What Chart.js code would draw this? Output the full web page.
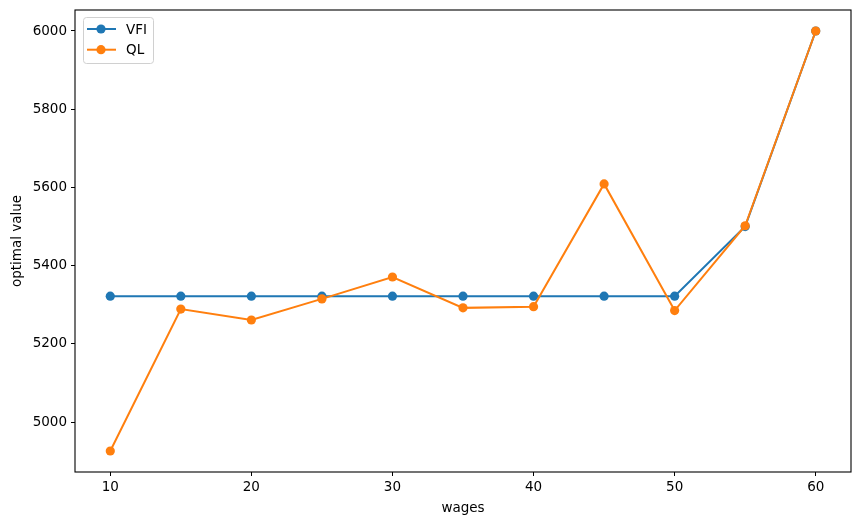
<!DOCTYPE html>
<html>
<head>
<meta charset="utf-8">
<script src="https://cdn.jsdelivr.net/npm/chart.js@4"></script>
<style>
  body { margin: 0; background: #fff; }
  #wrap { width: 859px; height: 525px; }
</style>
</head>
<body>
<div id="wrap"><canvas id="chartValores" width="859" height="525"></canvas></div>
<script>
// datos
const wages = [10, 15, 20, 25, 30, 35, 40, 45, 50, 55, 60];
const vfiValues = [5322, 5322, 5322, 5322, 5322, 5322, 5322, 5322, 5322, 5500, 6000];
const qlValues = [4926, 5289, 5261, 5315, 5371, 5292, 5295, 5609, 5285, 5502, 6000];
const xTicks = [10, 20, 30, 40, 50, 60];
const yTicks = [5000, 5200, 5400, 5600, 5800, 6000];

const FONT = "'DejaVu Sans', sans-serif";
const BLUE = "#1f77b4";
const ORANGE = "#ff7f0e";

// marco negro alrededor del area
const framePlugin = {
    id: "frame",
    afterDraw(chart) {
        const a = chart.chartArea, ctx = chart.ctx;
        ctx.save();
        ctx.strokeStyle = "#000";
        ctx.lineWidth = 1.1;
        ctx.strokeRect(a.left, a.top, a.right - a.left, a.bottom - a.top);
        ctx.restore();
    }
};

// leyenda al estilo matplotlib (linea + marcador)
const legendPlugin = {
    id: "mplLegend",
    afterDraw(chart) {
        const ctx = chart.ctx;
        const a = chart.chartArea;
        const x0 = a.left + 8, y0 = a.top + 7, w = 70, h = 46;
        ctx.save();
        ctx.fillStyle = "rgba(255,255,255,0.8)";
        ctx.strokeStyle = "#d0d0d0";
        ctx.lineWidth = 1;
        ctx.beginPath();
        ctx.roundRect(x0 + 0.5, y0 + 0.5, w, h, 3);
        ctx.fill();
        ctx.stroke();
        const items = chart.data.datasets.map(d => ({ label: d.label, color: d.borderColor }));
        items.forEach((it, i) => {
            const cy = y0 + 12 + i * 20.7;
            ctx.strokeStyle = it.color;
            ctx.lineWidth = 2;
            ctx.beginPath();
            ctx.moveTo(x0 + 4, cy);
            ctx.lineTo(x0 + 33, cy);
            ctx.stroke();
            ctx.fillStyle = it.color;
            ctx.beginPath();
            ctx.arc(x0 + 18, cy, 4.6, 0, Math.PI * 2);
            ctx.fill();
            ctx.fillStyle = "#000";
            ctx.font = "13.5px " + FONT;
            ctx.textBaseline = "middle";
            ctx.fillText(it.label, x0 + 43, cy + 1);
        });
        ctx.restore();
    }
};

new Chart(document.getElementById("chartValores"), {
    type: "line",
    data: {
        labels: wages,
        datasets: [
            {
                label: "VFI",
                data: wages.map((w, i) => ({ x: w, y: vfiValues[i] })),
                borderColor: BLUE,
                backgroundColor: BLUE,
                borderWidth: 2,
                pointRadius: 4.6,
                pointBorderWidth: 0,
                pointHoverRadius: 4.6,
                tension: 0,
                order: 1
            },
            {
                label: "QL",
                data: wages.map((w, i) => ({ x: w, y: qlValues[i] })),
                borderColor: ORANGE,
                backgroundColor: ORANGE,
                borderWidth: 2,
                pointRadius: 4.6,
                pointBorderWidth: 0,
                pointHoverRadius: 4.6,
                tension: 0,
                order: 0
            }
        ]
    },
    options: {
        responsive: false,
        animation: false,
        layout: { padding: { left: 0, right: 8, top: 10, bottom: 0 } },
        plugins: {
            legend: { display: false },
            tooltip: { enabled: false }
        },
        scales: {
            x: {
                type: "linear",
                min: 7.5,
                max: 62.5,
                afterBuildTicks: s => { s.ticks = xTicks.map(v => ({ value: v })); },
                afterFit: s => { s.height = 53; s.paddingLeft = 0; s.paddingRight = 0; },
                border: { display: false },
                grid: { drawOnChartArea: false, drawTicks: true, tickLength: 4, tickColor: "#000", tickWidth: 1 },
                ticks: { color: "#000", padding: 3, font: { family: FONT, size: 13.5 }, maxRotation: 0 },
                title: { display: true, text: "wages", color: "#000", font: { family: FONT, size: 13.5 }, padding: { top: 2, bottom: 8 } }
            },
            y: {
                min: 4872.3,
                max: 6053.7,
                afterBuildTicks: s => { s.ticks = yTicks.map(v => ({ value: v })); },
                afterFit: s => { s.width = 75; s.paddingTop = 0; s.paddingBottom = 0; },
                border: { display: false },
                grid: { drawOnChartArea: false, drawTicks: true, tickLength: 4, tickColor: "#000", tickWidth: 1 },
                ticks: { color: "#000", padding: 4, font: { family: FONT, size: 13.5 }, callback: v => String(v) },
                title: { display: true, text: "optimal value", color: "#000", font: { family: FONT, size: 13.5 }, padding: { top: 9, bottom: 4 } }
            }
        }
    },
    plugins: [framePlugin, legendPlugin]
});
</script>
</body>
</html>
